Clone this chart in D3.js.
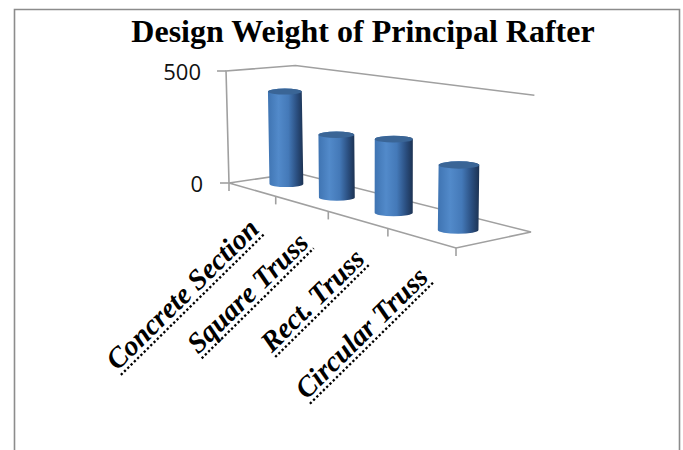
<!DOCTYPE html>
<html>
<head>
<meta charset="utf-8">
<script src="https://cdnjs.cloudflare.com/ajax/libs/d3/7.8.5/d3.min.js"></script>
<style>
html,body{margin:0;padding:0;background:#fff;}
svg{display:block;}
</style>
</head>
<body>
<svg id="chart" width="683" height="450"></svg>
<script>
const chartTitle = "Design Weight of Principal Rafter";
const categories = ["Concrete Section", "Square Truss", "Rect. Truss", "Circular Truss"];
const designWeight = [410, 263, 290, 240];
const valueTicks = [0, 500];

const svg = d3.select("#chart");
const W = 683, H = 450;

// Chart frame: open at the bottom edge
svg.append("path")
  .attr("d", `M14.5,${H} V9.5 H679.5 V${H}`)
  .attr("fill", "none").attr("stroke", "#8c8c8c").attr("stroke-width", 1.6);

svg.append("text")
  .attr("x", 363).attr("y", 42).attr("text-anchor", "middle")
  .attr("font-family", "Liberation Serif").attr("font-weight", "bold")
  .attr("font-size", 32).attr("fill", "#000")
  .text(chartTitle);

// Floor of the 3D box as a perspective map of the unit square
const quad = [[229, 183], [456, 248], [531, 232], [297, 173]];
const homography = (() => {
  const [[x0, y0], [x1, y1], [x2, y2], [x3, y3]] = quad;
  const dx1 = x1 - x2, dx2 = x3 - x2, sx = x0 - x1 + x2 - x3;
  const dy1 = y1 - y2, dy2 = y3 - y2, sy = y0 - y1 + y2 - y3;
  const det = dx1 * dy2 - dx2 * dy1;
  const g = (sx * dy2 - dx2 * sy) / det;
  const h = (dx1 * sy - sx * dy1) / det;
  return {
    a: x1 - x0 + g * x1, b: x3 - x0 + h * x3, c: x0,
    d: y1 - y0 + g * y1, e: y3 - y0 + h * y3, f: y0, g, h
  };
})();
const depthScale = (u, v) => homography.g * u + homography.h * v + 1;

// Vertical extent of the value axis at the front-left corner of the box
const wallHeight = 112;
const value = d3.scaleLinear().domain([0, 500]).range([0, wallHeight]);
const catU = d3.scaleLinear().domain([0, categories.length]).range([0, 1]);

// Uprights splay outward around the vanishing column
const vanishX = 385, splay = 0.00017;

function project(u, v, val) {
  const m = homography, w = depthScale(u, v);
  const x = (m.a * u + m.b * v + m.c) / w;
  const y = (m.d * u + m.e * v + m.f) / w;
  const rise = value(val) / w;
  return [x + (x - vanishX) * splay * rise, y - rise];
}

const lineColor = "#a0a0a0";
const walls = svg.append("g").attr("fill", "none")
  .attr("stroke", lineColor).attr("stroke-width", 1.6);
const poly = pts => walls.append("path").attr("d", d3.line()(pts));

poly([project(0, 0, 0), project(0, 0, 500), project(0, 1, 500), project(1, 1, 500)]);
poly([project(0, 0, 0), project(0, 1, 0), project(1, 1, 0), project(1, 0, 0), project(0, 0, 0)]);

// Value axis ticks and labels
valueTicks.forEach(t => {
  const [x, y] = project(0, 0, t);
  walls.append("path").attr("d", d3.line()([[x - 9, y], [x, y]]));
  svg.append("text")
    .attr("x", t === 0 ? 203 : 201).attr("y", y + 8.5)
    .attr("text-anchor", "end")
    .attr("font-family", "Open Sans").attr("font-size", 22).attr("fill", "#111")
    .text(t);
});

// Category ticks hang below the front edge
d3.range(categories.length + 1).forEach(i => {
  const [x, y] = project(catU(i), 0, 0);
  walls.append("path").attr("d", d3.line()([[x, y], [x, y + 8]]));
});

// Cylinders
const defs = svg.append("defs");
const grad = defs.append("linearGradient").attr("id", "cyl")
  .attr("x1", 0).attr("x2", 1).attr("y1", 0).attr("y2", 0);
[[0, "#3f74b2"], [0.3, "#528aca"], [0.58, "#4479b8"], [0.82, "#2a4e7f"], [1, "#1c3252"]]
  .forEach(([o, c]) => grad.append("stop").attr("offset", o).attr("stop-color", c));

const barRadius = 16.8, barDepth = 0.5, barOffset = 0.49;
const bars = svg.append("g");
categories.forEach((c, i) => {
  const u = catU(i + barOffset), s = 1 / depthScale(u, barDepth);
  const [bx, by] = project(u, barDepth, 0);
  const [tx, ty] = project(u, barDepth, designWeight[i]);
  const rx = barRadius * s, ry = rx * 0.18;
  bars.append("path")
    .attr("d", `M${tx - rx},${ty} L${bx - rx},${by}
      A${rx},${ry} 0 0 0 ${bx + rx},${by}
      L${tx + rx},${ty}
      A${rx},${ry} 0 0 0 ${tx - rx},${ty} Z`)
    .attr("fill", "url(#cyl)");
  bars.append("ellipse")
    .attr("cx", tx).attr("cy", ty).attr("rx", rx).attr("ry", ry)
    .attr("fill", "#3a6596");
});

// Rotated category labels with a dotted rule beneath each one
const labelAngle = -44.5;
categories.forEach((c, i) => {
  const [x, y] = project(catU(i + 0.5), 0, 0);
  const g = svg.append("g")
    .attr("transform", `translate(${x + 9},${y + 41}) rotate(${labelAngle})`);
  const t = g.append("text")
    .attr("text-anchor", "end")
    .attr("font-family", "Liberation Serif").attr("font-weight", "bold")
    .attr("font-style", "italic").attr("font-size", 28.6).attr("fill", "#000")
    .text(c);
  const len = t.node().getComputedTextLength();
  g.append("line")
    .attr("x1", -len).attr("x2", 0).attr("y1", 5).attr("y2", 5)
    .attr("stroke", "#000").attr("stroke-width", 2.3)
    .attr("stroke-dasharray", "2.3 2.3");
});
</script>
</body>
</html>
